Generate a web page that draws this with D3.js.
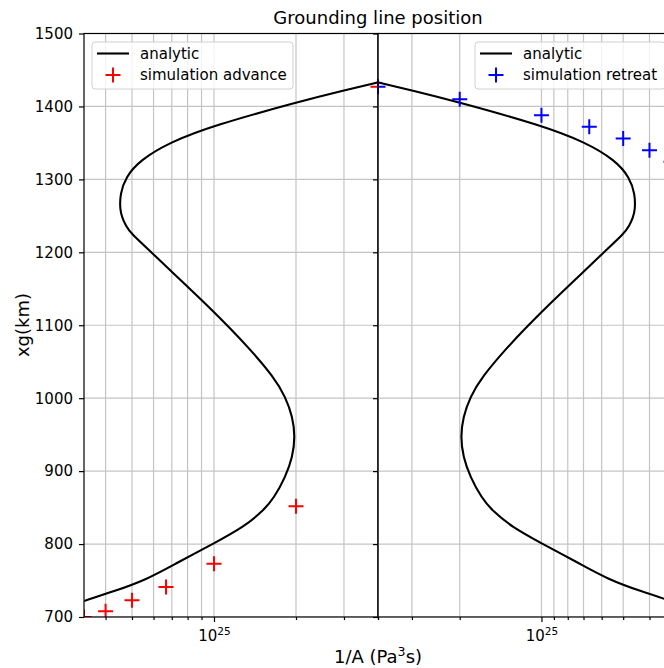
<!DOCTYPE html>
<html>
<head>
<meta charset="utf-8">
<script src="https://cdn.jsdelivr.net/npm/d3@7"></script>
<style>
  body { margin: 0; background: #fff; }
  text { font-family: "DejaVu Sans", sans-serif; fill: #000; }
</style>
</head>
<body>
<svg width="664" height="668"></svg>
<script>
// analytic curve, read top to bottom: grounding line position (km) and 1/A (Pa^3 s)
const curveXg = [1433, 1422, 1406, 1374, 1351, 1326, 1303, 1280, 1258, 1248, 1236, 1226, 1198, 1171,
  1137, 1118, 1096, 1067, 1029, 1002, 974, 947, 920, 892, 863, 845, 824, 801, 774, 751, 735, 722];
const curveInvA = [4.0e25, 3.0e25, 2.02e25, 1.0e25, 6.89e24, 5.34e24, 4.74e24, 4.52e24, 4.52e24,
  4.6e24, 4.75e24, 4.95e24, 5.98e24, 7.09e24, 8.88e24, 1.0e25, 1.145e25, 1.357e25, 1.656e25, 1.83e25,
  1.945e25, 1.985e25, 1.945e25, 1.83e25, 1.66e25, 1.51e25, 1.29e25, 1.0e25, 7.3e24, 5.64e24,
  4.28e24, 3.34e24];

// simulations
const advanceInvA = [3.333e24, 4e24, 5e24, 6.667e24, 1e25, 2e25, 4e25];
const advanceXg = [700, 708, 723, 741, 773, 852, 1427];
const retreatInvA = [4e25, 2e25, 1e25, 6.667e24, 5e24, 4e24, 3.333e24];
const retreatXg = [1427, 1410, 1388, 1372, 1356, 1340, 1324];

const yTicks = [700, 800, 900, 1000, 1100, 1200, 1300, 1400, 1500];
const xMajor = [1e25];
const xMinor = [4e24, 5e24, 6e24, 7e24, 8e24, 9e24, 2e25, 3e25, 4e25];
const xDomain = [3.333e24, 4e25];

const svg = d3.select("svg");
const plotTop = 33.5, plotBottom = 617, plotLeft = 84, plotMid = 378, plotRight = 671;

const y = d3.scaleLinear().domain([700, 1500]).range([plotBottom, plotTop]);
const xL = d3.scaleLog().domain(xDomain).range([plotLeft, plotMid]);
const xR = d3.scaleLog().domain(xDomain.slice().reverse()).range([plotMid, plotRight]);

const defs = svg.append("defs");
defs.append("clipPath").attr("id", "clipL").append("rect")
  .attr("x", plotLeft).attr("y", plotTop).attr("width", plotMid - plotLeft).attr("height", plotBottom - plotTop);
defs.append("clipPath").attr("id", "clipR").append("rect")
  .attr("x", plotMid).attr("y", plotTop).attr("width", plotRight - plotMid).attr("height", plotBottom - plotTop);

const plus = "M-7.5,0H7.5M0,-7.5V7.5";

function panel(x, clipId, simX, simY, color) {
  const g = svg.append("g");
  const plot = g.append("g").attr("clip-path", `url(#${clipId})`);
  const [x0, x1] = x.range();

  // grid
  plot.selectAll(".vgrid").data(xMajor.concat(xMinor)).enter().append("line")
    .attr("x1", d => x(d)).attr("x2", d => x(d))
    .attr("y1", plotTop).attr("y2", plotBottom)
    .attr("stroke", "#c4c4c4").attr("stroke-width", 1.2);
  plot.selectAll(".hgrid").data(yTicks).enter().append("line")
    .attr("x1", x0).attr("x2", x1)
    .attr("y1", d => y(d)).attr("y2", d => y(d))
    .attr("stroke", "#c4c4c4").attr("stroke-width", 1.2);

  // analytic curve
  const line = d3.line()
    .x((d, i) => x(curveInvA[i]))
    .y(d => y(d))
    .curve(d3.curveBasis);
  plot.append("path").datum(curveXg)
    .attr("d", line)
    .attr("fill", "none").attr("stroke", "#000").attr("stroke-width", 2.1);

  // simulation markers
  plot.selectAll(".pt").data(simY).enter().append("path")
    .attr("transform", (d, i) => `translate(${x(simX[i])},${y(d)})`)
    .attr("d", plus)
    .attr("stroke", color).attr("stroke-width", 2).attr("fill", "none");

  // spines
  g.append("rect")
    .attr("x", x0).attr("y", plotTop).attr("width", x1 - x0).attr("height", plotBottom - plotTop)
    .attr("fill", "none").attr("stroke", "#000").attr("stroke-width", 1.2);

  // x axes
  const major = g.append("g").attr("transform", `translate(0,${plotBottom})`)
    .call(d3.axisBottom(x).tickValues(xMajor).tickSize(5).tickFormat(() => ""));
  const minor = g.append("g").attr("transform", `translate(0,${plotBottom})`)
    .call(d3.axisBottom(x).tickValues(xMinor).tickSize(3).tickFormat(""));
  [major, minor].forEach(a => {
    a.select(".domain").remove();
    a.selectAll("line").attr("stroke", "#000").attr("stroke-width", 1.2);
  });
  major.selectAll(".tick text").each(function () {
    const t = d3.select(this).attr("y", 24).attr("dy", null)
      .attr("text-anchor", "middle").style("font-size", "15px");
    t.append("tspan").text("10");
    t.append("tspan").attr("dy", -6.5).style("font-size", "10.5px").text("25");
  });
  return g;
}

panel(xL, "clipL", advanceInvA, advanceXg, "#ff0000");
panel(xR, "clipR", retreatInvA, retreatXg, "#0000ff");

// y axes
const yAxisL = svg.append("g").attr("transform", `translate(${plotLeft},0)`)
  .call(d3.axisLeft(y).tickValues(yTicks).tickSize(5).tickPadding(6).tickFormat(d3.format("d")));
yAxisL.selectAll("text").style("font-size", "15px").attr("fill", "#000");
const yAxisR = svg.append("g").attr("transform", `translate(${plotMid},0)`)
  .call(d3.axisLeft(y).tickValues(yTicks).tickSize(5).tickFormat(""));
[yAxisL, yAxisR].forEach(a => {
  a.select(".domain").remove();
  a.selectAll("line").attr("stroke", "#000").attr("stroke-width", 1.2);
});

// titles and labels
svg.append("text").attr("x", plotMid).attr("y", 24).attr("text-anchor", "middle")
  .style("font-size", "18px").text("Grounding line position");

const xl = svg.append("text").attr("x", plotMid).attr("y", 663).attr("text-anchor", "middle")
  .style("font-size", "18px");
xl.append("tspan").text("1/A (Pa");
xl.append("tspan").attr("dy", -7).style("font-size", "12.6px").text("3");
xl.append("tspan").attr("dy", 7).text("s)");

svg.append("text").attr("transform", "translate(28.5,325) rotate(-90)")
  .attr("text-anchor", "middle").style("font-size", "18px").text("xg(km)");

// legends
function legend(x0, width, label, color) {
  const g = svg.append("g");
  g.append("rect").attr("x", x0).attr("y", 42).attr("width", width).attr("height", 47)
    .attr("rx", 3).attr("fill", "#fff").attr("fill-opacity", 0.8)
    .attr("stroke", "#d0d0d0").attr("stroke-width", 1);
  g.append("line").attr("x1", x0 + 5).attr("x2", x0 + 37).attr("y1", 53.5).attr("y2", 53.5)
    .attr("stroke", "#000").attr("stroke-width", 2.1);
  g.append("path").attr("transform", `translate(${x0 + 21},75)`).attr("d", plus)
    .attr("stroke", color).attr("stroke-width", 2).attr("fill", "none");
  g.append("text").attr("x", x0 + 48).attr("y", 58.5).style("font-size", "15px").text("analytic");
  g.append("text").attr("x", x0 + 48).attr("y", 80).style("font-size", "15px").text(label);
}
legend(92, 201, "simulation advance", "#ff0000");
legend(475, 190, "simulation retreat", "#0000ff");
</script>
</body>
</html>
